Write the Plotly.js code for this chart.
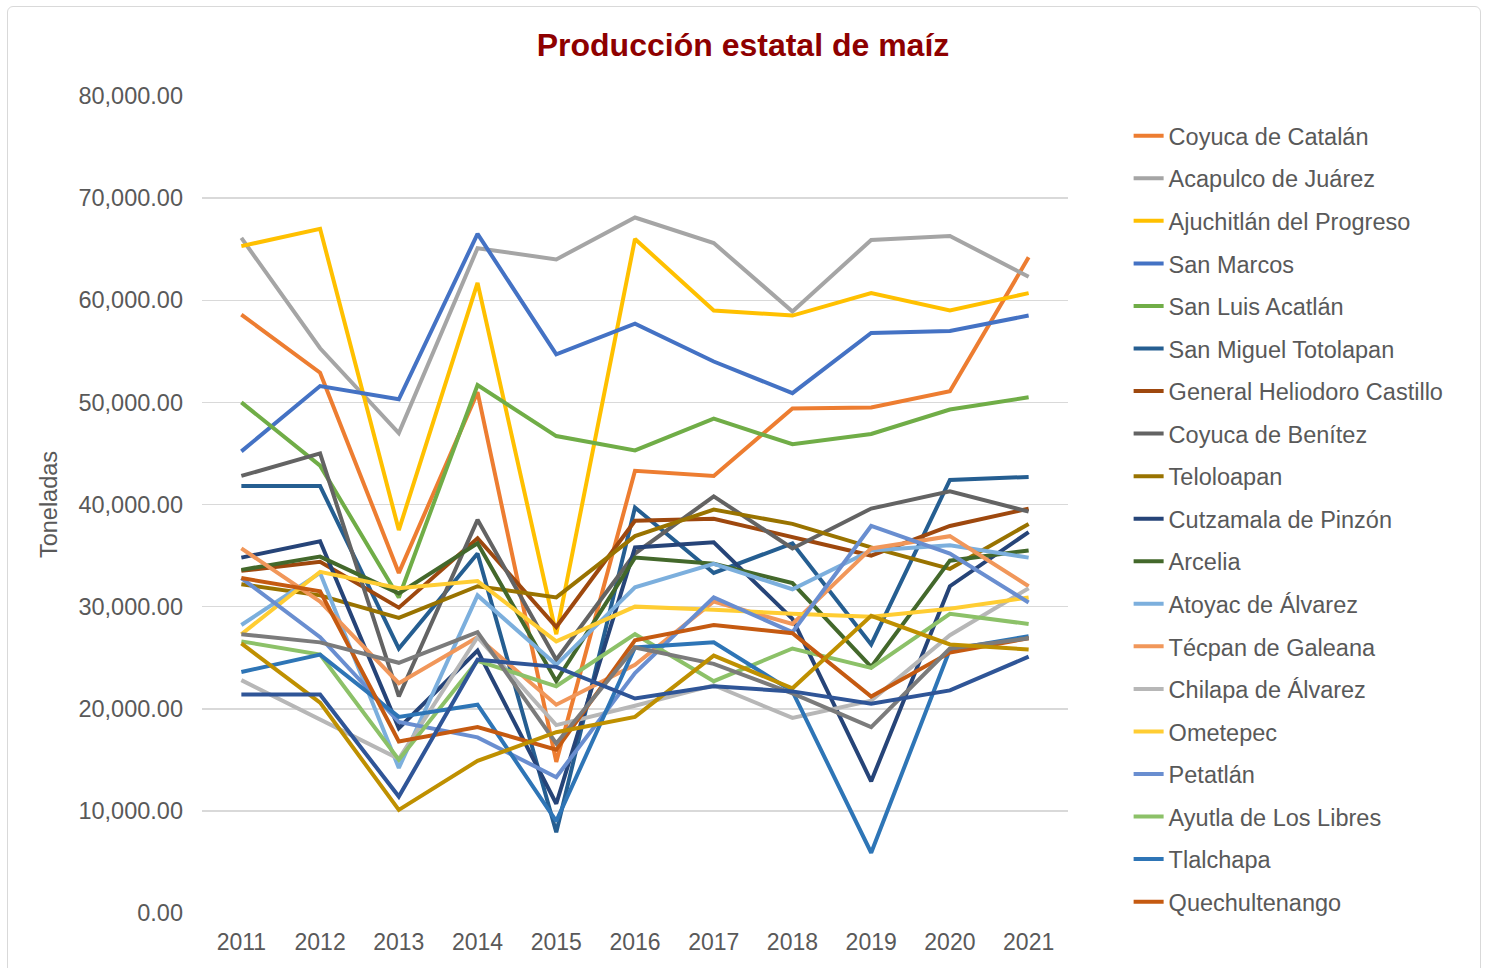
<!DOCTYPE html>
<html>
<head>
<meta charset="utf-8">
<script src="https://cdn.plot.ly/plotly-3.0.1.min.js"></script>
<style>
  html, body { margin: 0; padding: 0; background: #ffffff; }
  #wrap { position: relative; width: 1486px; height: 968px; overflow: hidden; }
  #chart { width: 1486px; height: 968px; }
  #frame { position: absolute; left: 7px; top: 6px; width: 1472px; height: 972px;
           border: 1.5px solid #D9D9D9; border-radius: 6px; pointer-events: none; }
</style>
</head>
<body>
<div id="wrap"><div id="chart"></div><div id="frame"></div></div>
<script>
const years = ['2011','2012','2013','2014','2015','2016','2017','2018','2019','2020','2021'];

const coyucaCatalan   = [58600, 52900, 33300, 51000, 14800, 43300, 42800, 49400, 49500, 51100, 64200];
const acapulco        = [66100, 55300, 47000, 65100, 64000, 68100, 65600, 58900, 65900, 66300, 62300];
const ajuchitlan      = [65300, 67000, 37500, 61700, 27300, 66000, 59000, 58500, 60700, 59000, 60700];
const sanMarcos       = [45200, 51600, 50300, 66500, 54700, 57700, 54000, 50900, 56800, 57000, 58500];
const sanLuis         = [50000, 43800, 30900, 51700, 46700, 45300, 48400, 45900, 46900, 49300, 50500];
const sanMiguel       = [41800, 41800, 25900, 35200, 7900, 39700, 33300, 36200, 26300, 42400, 42700];
const heliodoro       = [33500, 34400, 29900, 36700, 28000, 38400, 38600, 36800, 35000, 37900, 39600];
const coyucaBenitez   = [42800, 45000, 21200, 38500, 24800, 35200, 40800, 35700, 39600, 41300, 39300];
const teloloapan      = [32200, 31100, 28900, 32000, 30900, 36900, 39500, 38100, 35800, 33700, 38100];
const cutzamala       = [34800, 36400, 18100, 25700, 10700, 35800, 36300, 28800, 12900, 32000, 37300];
const arcelia         = [33600, 34900, 31300, 36200, 22700, 34800, 34200, 32300, 24100, 34500, 35500];
const atoyac          = [28200, 33300, 14200, 31100, 24300, 31900, 34200, 31700, 35500, 36000, 34800];
const tecpan          = [35700, 30500, 22500, 27000, 20400, 24300, 30500, 28300, 35700, 36900, 32000];
const chilapa         = [22800, 19000, 15100, 27000, 18400, 20300, 22300, 19100, 20800, 27200, 31800];
const ometepec        = [27300, 33400, 31800, 32500, 26600, 30000, 29700, 29300, 29000, 29800, 30900];
const petatlan        = [32800, 27000, 18700, 17200, 13300, 23500, 30900, 27500, 37900, 35200, 30400];
const ayutla          = [26600, 25300, 15000, 24700, 22200, 27300, 22700, 25900, 24000, 29300, 28300];
const tlalchapa       = [23600, 25300, 19200, 20400, 9000, 26000, 26500, 21700, 5900, 25800, 27100];
const quechultenango  = [32800, 31500, 16800, 18200, 16000, 26700, 28200, 27400, 21200, 25500, 26900];
// series drawn in the chart but not listed in its legend
const extraGray       = [27300, 26500, 24500, 27500, 16600, 26000, 24400, 21500, 18200, 25900, 26900];
const extraGold       = [26400, 20600, 10100, 14900, 17700, 19200, 25200, 22000, 29100, 26300, 25800];
const extraBlue       = [21400, 21400, 11400, 24800, 24100, 21000, 22200, 21700, 20500, 21800, 25100];

const seriesNames = ['Coyuca de Catalán','Acapulco de Juárez','Ajuchitlán del Progreso','San Marcos',
  'San Luis Acatlán','San Miguel Totolapan','General Heliodoro Castillo','Coyuca de Benítez','Teloloapan',
  'Cutzamala de Pinzón','Arcelia','Atoyac de Álvarez','Técpan de Galeana','Chilapa de Álvarez','Ometepec',
  'Petatlán','Ayutla de Los Libres','Tlalchapa','Quechultenango','Serie 20','Serie 21','Serie 22'];
const seriesValues = [coyucaCatalan, acapulco, ajuchitlan, sanMarcos, sanLuis, sanMiguel, heliodoro,
  coyucaBenitez, teloloapan, cutzamala, arcelia, atoyac, tecpan, chilapa, ometepec, petatlan, ayutla,
  tlalchapa, quechultenango, extraGray, extraGold, extraBlue];
const seriesColors = ['#ED7D31','#A5A5A5','#FFC000','#4472C4','#70AD47','#255E91','#9E480E','#636363',
  '#997300','#264478','#43682B','#7CAFDD','#F1975A','#B7B7B7','#FFCD33','#698ED0','#8CC168','#2E75B6',
  '#C55A11','#7B7B7B','#BF9000','#2F5597'];
const inLegend = seriesNames.map((n, i) => i < 19);

const traces = seriesValues.map((vals, i) => ({
  type: 'scatter', mode: 'lines',
  x: years, y: vals, name: seriesNames[i],
  legendgroup: 'g' + i, showlegend: inLegend[i],
  line: { color: seriesColors[i], width: 4 },
  hoverinfo: 'skip'
}));

const layout = {
  width: 1486, height: 968,
  paper_bgcolor: '#ffffff', plot_bgcolor: '#ffffff',
  margin: { l: 202, r: 418, t: 96, b: 55 },
  font: { family: 'Liberation Sans, Arial, sans-serif', color: '#595959' },
  title: {
    text: '<b>Producción estatal de maíz</b>',
    font: { size: 32, color: '#8E0000', family: 'Liberation Sans, Arial, sans-serif' },
    x: 0.5, xanchor: 'center', xref: 'container',
    y: 1 - 45 / 968, yanchor: 'middle', yref: 'container'
  },
  xaxis: {
    type: 'category', range: [-0.5, 10.5],
    showgrid: false, zeroline: false, showline: false, ticks: '',
    tickfont: { size: 23, color: '#595959' }, ticklabelstandoff: 13
  },
  yaxis: {
    range: [0, 80000], dtick: 10000, tick0: 0, tickformat: ',.2f',
    showgrid: true, gridcolor: '#D9D9D9', gridwidth: 1.5,
    zeroline: false, showline: false, ticks: '',
    tickfont: { size: 23.5, color: '#595959' }, ticklabelstandoff: 18,
    title: { text: 'Toneladas', font: { size: 23.5, color: '#595959' }, standoff: 14 }
  },
  legend: {
    x: 1.07, xanchor: 'left', y: 0.978, yanchor: 'top',
    font: { size: 23.5, color: '#595959' },
    tracegroupgap: 9, bgcolor: 'rgba(0,0,0,0)'
  },
  showlegend: true
};

Plotly.newPlot('chart', traces, layout, { displayModeBar: false, staticPlot: true });
</script>
</body>
</html>
